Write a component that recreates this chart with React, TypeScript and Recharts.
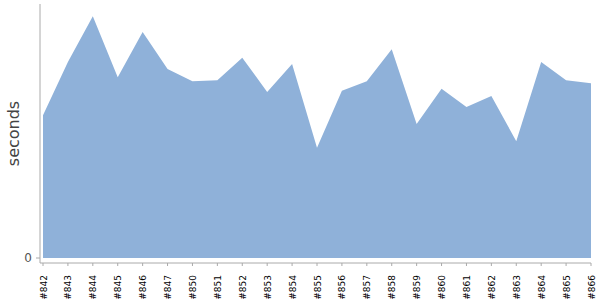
import { AreaChart, Area, XAxis, YAxis } from 'recharts'

const builds = [
  '#842', '#843', '#844', '#845', '#846', '#847', '#850', '#851', '#852', '#853', '#854', '#855',
  '#856', '#857', '#858', '#859', '#860', '#861', '#862', '#863', '#864', '#865', '#866',
]

const seconds = [
  28.1, 38.6, 47.6, 35.6, 44.5, 37.2, 34.8, 35.0, 39.4, 32.7, 38.2, 21.7,
  32.9, 34.8, 41.1, 26.4, 33.3, 29.7, 31.9, 23.0, 38.6, 35.0, 34.4,
]

const yTicks = [0]

const data = builds.map((build, i) => ({ build, seconds: seconds[i] }))

const font = '"DejaVu Sans", Verdana, sans-serif'

function BuildTick(props: any) {
  const { x, y, payload } = props
  return (
    <text
      x={0}
      y={0}
      transform={`translate(${x + 3.5},${y + 7}) rotate(-90)`}
      textAnchor="end"
      fontSize={9}
      fontFamily={font}
      fill="#000"
    >
      {payload.value}
    </text>
  )
}

export default function App() {
  return (
    <div style={{ position: 'absolute', left: 0, top: 0, background: '#fff' }}>
      <AreaChart width={600} height={300} data={data} margin={{ top: 4, right: 9, left: 0, bottom: 0 }}>
        <XAxis
          dataKey="build"
          interval={0}
          height={37}
          stroke="#aaa"
          tickSize={3}
          tick={<BuildTick />}
          padding={{ left: 3, right: 0 }}
        />
        <YAxis
          domain={[0, 50]}
          ticks={yTicks}
          width={40}
          stroke="#aaa"
          tickSize={4}
          padding={{ bottom: 5 }}
          tick={{ fontSize: 12, fill: '#555', fontFamily: font, dx: -2 }}
          label={{
            value: 'seconds',
            angle: -90,
            position: 'insideLeft',
            dx: 8,
            style: { fontSize: 16, fill: '#444', fontFamily: font, textAnchor: 'middle' },
          }}
        />
        <Area
          type="linear"
          dataKey="seconds"
          stroke="none"
          fill="#8fb1d9"
          fillOpacity={1}
          isAnimationActive={false}
        />
      </AreaChart>
    </div>
  )
}
